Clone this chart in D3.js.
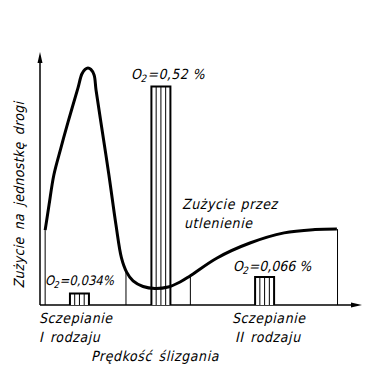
<!DOCTYPE html>
<html>
<head>
<meta charset="utf-8">
<script src="https://cdn.jsdelivr.net/npm/d3@7"></script>
<style>
  html, body { margin: 0; padding: 0; background: #fff; }
  svg text { font-family: "DejaVu Sans Condensed", "DejaVu Sans", sans-serif; fill: #000; }
</style>
</head>
<body>
<svg id="chart" width="368" height="382"></svg>
<script>
// Wear curve (arbitrary units, 0-100 on both axes)
const curveX = [1.6, 2.8, 4.3, 6.5, 8.7, 11.8, 13.0, 14.0, 14.9, 15.8, 16.8, 17.4, 18.9, 21.4, 23.6, 25.3, 26.9, 28.9, 32.0, 35.7, 39.8, 43.5, 46.6, 55.0, 65.2, 75.8, 85.4, 92.2];
const curveY = [29.6, 39.5, 51.4, 62.1, 72.3, 85.8, 91.3, 93.1, 93.7, 93.1, 90.9, 85.0, 72.3, 51.4, 31.6, 18.6, 13.0, 9.5, 7.3, 6.5, 7.1, 9.1, 11.5, 18.6, 24.5, 28.5, 29.8, 30.0];
// drop lines (x position, top value on curve)
const dropX = [1.6, 26.7, 46.7, 92.4];
const dropY = [29.6, 13.2, 11.5, 30.0];
// oxygen-content bars
const barLabels = ["O₂=0,034%", "O₂=0,52 %", "O₂=0,066 %"];
const barX0 = [9.3, 34.6, 66.8];
const barX1 = [15.2, 40.5, 72.7];
const barH = [4.5, 86.4, 11.1];

const svg = d3.select("#chart");
const x = d3.scaleLinear().domain([0, 100]).range([40, 362]);
const y = d3.scaleLinear().domain([0, 100]).range([305, 52]);

// axes
svg.append("line").attr("x1", x(0)).attr("x2", x(100) - 6).attr("y1", y(0)).attr("y2", y(0))
  .attr("stroke", "#000").attr("stroke-width", 1.5);
svg.append("line").attr("x1", x(0)).attr("x2", x(0)).attr("y1", y(0)).attr("y2", y(100) + 6)
  .attr("stroke", "#000").attr("stroke-width", 1.5);
// arrowheads
svg.append("path").attr("d", `M${x(100)},${y(0)} L${x(100) - 11},${y(0) - 2.5} L${x(100) - 11},${y(0) + 2.5} Z`).attr("fill", "#000");
svg.append("path").attr("d", `M${x(0)},${y(100)} L${x(0) - 2.5},${y(100) + 11} L${x(0) + 2.5},${y(100) + 11} Z`).attr("fill", "#000");

// drop lines
dropX.forEach((d, i) => {
  svg.append("line").attr("x1", x(d)).attr("x2", x(d)).attr("y1", y(dropY[i])).attr("y2", y(0))
    .attr("stroke", "#000").attr("stroke-width", 1);
});

// bars with vertical hatching
barX0.forEach((d, i) => {
  const g = svg.append("g");
  const xa = x(d), xb = x(barX1[i]), yt = y(barH[i]), yb = y(0);
  g.append("path").attr("d", `M${xa},${yb} L${xa},${yt} L${xb},${yt} L${xb},${yb}`)
    .attr("fill", "#fff").attr("stroke", "#000").attr("stroke-width", 2);
  for (let k = 1; k < 4; k++) {
    const xx = xa + (xb - xa) * k / 4;
    g.append("line").attr("x1", xx).attr("x2", xx).attr("y1", yt).attr("y2", yb)
      .attr("stroke", "#000").attr("stroke-width", 1);
  }
});

// curve
const line = d3.line().x(d => x(d[0])).y(d => y(d[1])).curve(d3.curveCatmullRom.alpha(0.5));
svg.append("path").datum(curveX.map((d, i) => [d, curveY[i]]))
  .attr("d", line).attr("fill", "none").attr("stroke", "#000").attr("stroke-width", 3)
  .attr("stroke-linejoin", "round");

// texts (slanted like technical lettering)
const fs = 14;
const skew = -13;
function txt(t, px, py, opts = {}) {
  const tf = opts.rot ? `translate(${px},${py}) rotate(-90) skewX(${skew})` : `translate(${px},${py}) skewX(${skew})`;
  const el = svg.append("text").attr("x", 0).attr("y", 0).attr("transform", tf)
    .attr("font-size", opts.size || fs)
    .attr("letter-spacing", opts.ls != null ? opts.ls : 0.6);
  if (opts.ws) el.attr("word-spacing", opts.ws);
  if (opts.rot) el.attr("text-anchor", "middle");
  el.text(t);
  return el;
}
function o2(label, px, py, size, ls) {
  const parts = label.split("₂");
  const el = svg.append("text").attr("x", 0).attr("y", 0)
    .attr("transform", `translate(${px},${py}) skewX(${skew})`).attr("font-size", size)
    .attr("letter-spacing", ls);
  el.append("tspan").text(parts[0]);
  el.append("tspan").attr("dy", 3).attr("font-size", size * 0.72).text("2");
  el.append("tspan").attr("dy", -3).text(parts[1]);
}
o2(barLabels[1], 131, 79, 14, 0.4);
o2(barLabels[0], 45, 285, 13, 0);
o2(barLabels[2], 233, 271, 14, 0);

txt("Zużycie przez", 182, 209, { ws: 1 });
txt("utlenienie", 184, 228);
txt("Sczepianie", 39, 323);
txt("I rodzaju", 39, 342, { ws: 2 });
txt("Sczepianie", 232, 323);
txt("II rodzaju", 235, 342, { ws: 2 });
txt("Prędkość ślizgania", 91, 361, { ws: 2 });
txt("Zużycie na jednostkę drogi", 24, 195, { rot: true, ws: 3, ls: 0.3 });
</script>
</body>
</html>
